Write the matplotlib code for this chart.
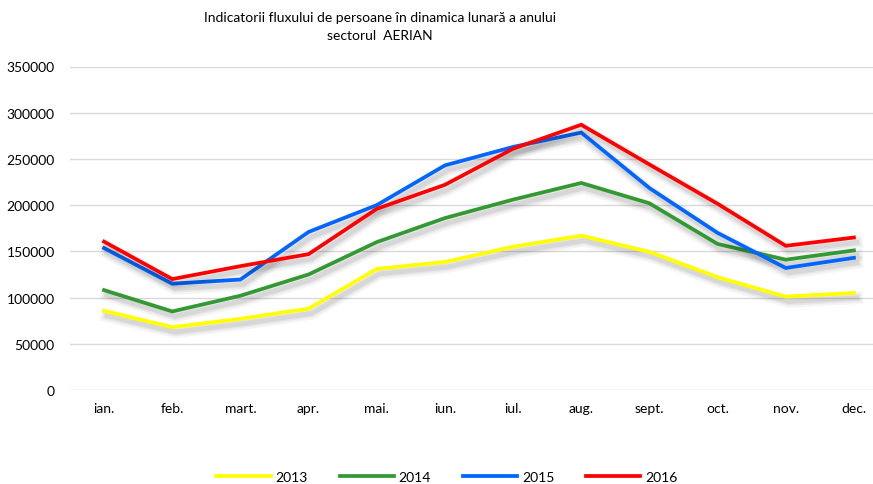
import matplotlib
matplotlib.use("Agg")
import matplotlib.pyplot as plt
import matplotlib.patheffects as pe
from matplotlib.lines import Line2D

months = ["ian.", "feb.", "mart.", "apr.", "mai.", "iun.", "iul.", "aug.", "sept.", "oct.", "nov.", "dec."]
y2013 = [85600, 68000, 77000, 88000, 131000, 138500, 155000, 167000, 149500, 122000, 101000, 105000]
y2014 = [108000, 85000, 102000, 125000, 160000, 186000, 206000, 224000, 202000, 158000, 141000, 151000]
y2015 = [153500, 115000, 119500, 171000, 200000, 243000, 263000, 278500, 218500, 170000, 132000, 143000]
y2016 = [160500, 120000, 134000, 147000, 196000, 222000, 261000, 287000, 244000, 201500, 156000, 165000]
series = [("2013", y2013, "#FFFF00"), ("2014", y2014, "#339933"),
          ("2015", y2015, "#0066FF"), ("2016", y2016, "#FF0000")]
yticks = [0, 50000, 100000, 150000, 200000, 250000, 300000, 350000]

plt.rcParams['font.family'] = ['Lato', 'DejaVu Sans']

W, H = 873, 485
fig = plt.figure(figsize=(W/100, H/100), dpi=100)
ax = fig.add_axes([70/W, 94/H, 818/W, 323.5/H])

shadow = [pe.SimpleLineShadow(offset=(2, -3.5), shadow_color='black', alpha=0.04, linewidth=9),
          pe.SimpleLineShadow(offset=(2, -3.5), shadow_color='black', alpha=0.05, linewidth=6),
          pe.SimpleLineShadow(offset=(2, -3.5), shadow_color='black', alpha=0.07, linewidth=3.5),
          pe.Normal()]

x = list(range(len(months)))
for name, vals, col in series:
    ax.plot(x, vals, color=col, lw=2.7, label=name, solid_joinstyle='miter',
            path_effects=shadow, zorder=3)

ax.set_xlim(-0.5, len(months) - 0.5)
ax.set_ylim(0, 350000)
ax.set_yticks(yticks)
ax.set_yticklabels([str(v) for v in yticks])
ax.set_xticks(x)
ax.set_xticklabels(months)
ax.grid(axis='y', color='#D9D9D9', lw=1.0, zorder=0)
ax.set_axisbelow(True)
for s in ax.spines.values():
    s.set_visible(False)
ax.tick_params(axis='both', length=0, labelsize=10, colors='#000000')
ax.tick_params(axis='y', pad=11)
ax.tick_params(axis='x', pad=9)

fig.text(380/W, 1 - 18/H, "Indicatorii fluxului de persoane în dinamica lunară a anului",
         ha='center', va='center', fontsize=10)
fig.text(380/W, 1 - 36/H, "sectorul  AERIAN", ha='center', va='center', fontsize=10)

labels = [s[0] for s in series]
lh = [Line2D([0], [0], color=c, lw=2.7) for _, _, c in series]
fig.legend(lh, labels, loc='center', bbox_to_anchor=(447/W, 1 - 478/H), ncol=4,
           frameon=False, fontsize=10, handlelength=3.9, handletextpad=0.35,
           columnspacing=2.3)

fig.savefig("out.png", dpi=100, facecolor='white')
